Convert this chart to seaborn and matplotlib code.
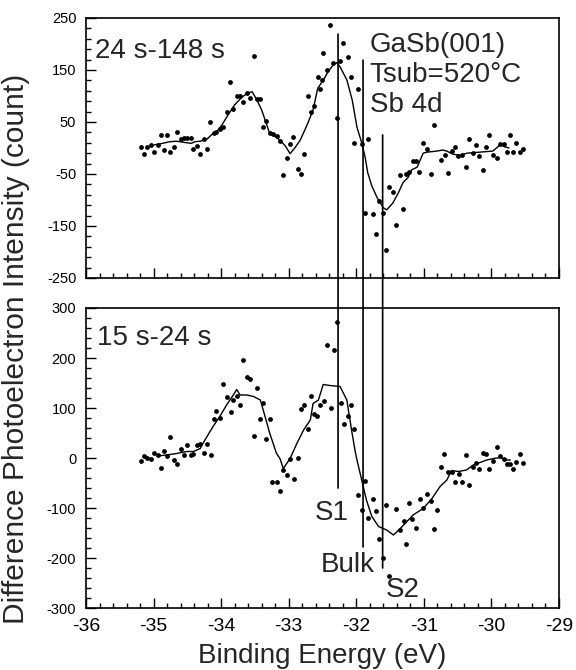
import pandas as pd
import matplotlib
matplotlib.use('Agg')
import matplotlib.pyplot as plt
import seaborn as sns
from matplotlib.ticker import MultipleLocator
from matplotlib.patches import ConnectionPatch

# ---- top panel (24 s-148 s): measured points ----
top_x = [-35.19, -35.14, -35.09, -35.04, -34.99, -34.94, -34.89, -34.84, -34.80, -34.75,
         -34.70, -34.66, -34.60, -34.55, -34.51, -34.45, -34.41, -34.36, -34.31, -34.26,
         -34.21, -34.16, -34.10, -34.07, -34.01, -33.97, -33.92, -33.87, -33.83, -33.77,
         -33.72, -33.67, -33.62, -33.57, -33.52, -33.47, -33.42, -33.38, -33.33, -33.28,
         -33.23, -33.18, -33.13, -33.08, -33.03, -32.98, -32.93, -32.87, -32.82, -32.77,
         -32.72, -32.67, -32.62, -32.57, -32.53, -32.51, -32.49, -32.44, -32.39, -32.34,
         -32.28, -32.24, -32.19, -32.13, -32.08, -32.03, -31.98, -31.92, -31.87, -31.82,
         -31.76, -31.71, -31.66, -31.61, -31.56, -31.51, -31.46, -31.41, -31.36, -31.31,
         -31.27, -31.22, -31.16, -31.11, -31.07, -31.02, -30.96, -30.90, -30.85, -30.74,
         -30.69, -30.64, -30.59, -30.54, -30.49, -30.44, -30.38, -30.33, -30.28, -30.23,
         -30.18, -30.13, -30.08, -30.03, -29.98, -29.92, -29.87, -29.82, -29.77, -29.72,
         -29.68, -29.63, -29.58, -29.53]
top_y = [2, -12, 1, 5, -8, 6, 25, -4, 25, -7,
         2, 30, 17, 19, 20, 20, -2, 4, -11, 17,
         -2, 49, 28, 30, 36, 40, 69, 127, 75, 100,
         99, 89, 105, 96, 176, 95, 94, 41, 52, 28,
         26, 23, 14, -52, -20, 7, 21, -40, -51, -12,
         99, 70, 81, 137, 113, 131, 182, 149, 236, 164,
         57, 167, 201, 174, 136, 10, 113, 7, -126, 17,
         -127, -165, -102, -126, -196, -76, -84, -148, -52, -118,
         -50, -47, -26, -25, -47, 9, -2, -50, 44, -23,
         -13, -49, -5, 2, -15, -13, -36, 17, -10, 6,
         -15, -42, 2, 25, -13, -20, 7, 7, -8, 25,
         -7, 9, -7, -2]

top_fit_x = [-34.99, -34.90, -34.76, -34.66, -34.51, -34.44, -34.39, -34.31, -34.21, -34.12,
             -34.08, -33.99, -33.90, -33.80, -33.69, -33.60, -33.54, -33.47, -33.40, -33.35,
             -33.29, -33.23, -33.13, -33.05, -32.98, -32.91, -32.83, -32.76, -32.71, -32.64,
             -32.57, -32.49, -32.42, -32.34, -32.29, -32.24, -32.14, -32.06, -31.99, -31.92,
             -31.87, -31.83, -31.77, -31.69, -31.60, -31.55, -31.46, -31.38, -31.31, -31.23,
             -31.18, -31.10, -31.01, -30.95, -30.81, -30.72, -30.66, -30.57, -30.47, -30.36,
             -30.17, -29.98, -29.87, -29.80, -29.74]
top_fit_y = [6, 8, 12, 13, 10, 9, 12, 13, 17, 28,
             29, 44, 63, 83, 98, 106, 108, 92, 73, 54,
             31, 25, 15, 4, -11, 0, 15, 35, 50, 73,
             115, 130, 146, 160, 164, 156, 131, 92, 40, 10,
             -17, -48, -73, -96, -115, -119, -106, -87, -67, -56,
             -42, -37, -10, -8, -6, -4, -6, -12, -14, -10,
             -8, -6, 6, 2, 0]

# ---- bottom panel (15 s-24 s): measured points ----
bot_x = [-35.19, -35.14, -35.09, -35.04, -34.99, -34.94, -34.89, -34.84, -34.80, -34.75,
         -34.70, -34.65, -34.60, -34.55, -34.50, -34.45, -34.41, -34.36, -34.31, -34.26,
         -34.21, -34.15, -34.11, -34.07, -34.02, -33.97, -33.92, -33.86, -33.82, -33.77,
         -33.72, -33.68, -33.62, -33.57, -33.52, -33.47, -33.42, -33.38, -33.33, -33.28,
         -33.24, -33.18, -33.13, -33.08, -33.03, -32.98, -32.92, -32.87, -32.82, -32.77,
         -32.72, -32.67, -32.63, -32.58, -32.53, -32.48, -32.43, -32.38, -32.33, -32.28,
         -32.23, -32.18, -32.13, -32.08, -32.03, -31.97, -31.92, -31.87, -31.82, -31.76,
         -31.71, -31.67, -31.61, -31.56, -31.51, -31.41, -31.36, -31.30, -31.26, -31.22,
         -31.17, -31.12, -31.06, -31.01, -30.96, -30.90, -30.85, -30.80, -30.74, -30.70,
         -30.64, -30.59, -30.54, -30.48, -30.44, -30.38, -30.33, -30.28, -30.23, -30.18,
         -30.13, -30.08, -30.03, -29.98, -29.92, -29.88, -29.82, -29.77, -29.72, -29.68,
         -29.63, -29.58, -29.53]
bot_y = [-6, 4, 1, -1, 11, 6, -19, 15, 4, 43,
         -3, -12, 19, 7, 27, 7, 9, 27, 29, 11,
         28, 7, 79, 95, 81, 148, 123, 93, 116, 124,
         106, 196, 163, 159, 45, 141, 79, 111, 39, 79,
         -47, -47, -66, -23, -33, -1, -42, 1, 99, 106,
         59, 124, 88, 84, 106, 114, 226, 101, 216, 273,
         111, 69, 85, 106, 59, -74, -104, -46, -119, -82,
         -105, -161, -199, -93, -235, -101, -143, -125, -171, -89,
         -121, -140, -81, -99, -71, -86, -141, -103, -17, 8,
         -28, -27, -47, -31, -47, 6, -54, -17, -9, -21,
         11, 8, -21, -5, 23, 5, -2, -11, -11, -22,
         -7, 9, -9]

bot_fit_x = [-34.95, -34.81, -34.66, -34.51, -34.41, -34.31, -34.24, -34.12, -34.02, -33.92,
             -33.82, -33.77, -33.72, -33.62, -33.52, -33.42, -33.35, -33.28, -33.18, -33.13,
             -33.08, -32.98, -32.88, -32.78, -32.68, -32.64, -32.56, -32.49, -32.39, -32.24,
             -32.14, -32.07, -32.02, -31.99, -31.92, -31.85, -31.77, -31.67, -31.55, -31.45,
             -31.35, -31.25, -31.16, -31.01, -30.88, -30.76, -30.66, -30.59, -30.49, -30.37,
             -30.27, -30.17, -30.07, -29.97, -29.87, -29.77, -29.72]
bot_fit_y = [4, 6, 9, 13, 13, 19, 36, 63, 83, 106,
             126, 137, 126, 126, 123, 116, 83, 49, 9, -1,
             -21, -1, 29, 56, 76, 109, 116, 147, 145, 143,
             116, 56, 16, -4, -44, -84, -117, -137, -144, -154,
             -141, -127, -114, -101, -81, -57, -44, -25, -27, -24,
             -14, -9, -4, -1, 1, -4, -4]

# peak marker lines: energy, top-panel end, bottom-panel end
marker_names = ['S1', 'Bulk', 'S2']
marker_x = [-32.27, -31.90, -31.61]
marker_top = [219, 169, 25]
marker_bot = [-60, -178, -220]

top = pd.DataFrame({'E': top_x, 'I': top_y})
top_fit = pd.DataFrame({'E': top_fit_x, 'I': top_fit_y})
bot = pd.DataFrame({'E': bot_x, 'I': bot_y})
bot_fit = pd.DataFrame({'E': bot_fit_x, 'I': bot_fit_y})

sns.set_style('ticks')
plt.rcParams['font.family'] = ['Liberation Sans', 'DejaVu Sans']
plt.rcParams['axes.unicode_minus'] = False

fig = plt.figure(figsize=(5.76, 6.70), dpi=100)
ax1 = fig.add_axes([0.1493, 0.5851, 0.8212, 0.3881])
ax2 = fig.add_axes([0.1493, 0.0925, 0.8212, 0.4478])

for ax, pts, fit in [(ax1, top, top_fit), (ax2, bot, bot_fit)]:
    sns.lineplot(data=fit, x='E', y='I', ax=ax, color='black', lw=1.0,
                 sort=False, estimator=None)
    sns.scatterplot(data=pts, x='E', y='I', ax=ax, color='black', s=12,
                    linewidth=0)
    ax.set_xlim(-36, -29)
    ax.xaxis.set_major_locator(MultipleLocator(1))
    ax.xaxis.set_minor_locator(MultipleLocator(0.2))
    ax.yaxis.set_minor_locator(MultipleLocator(20, offset=10 if ax is ax1 else 0))
    ax.tick_params(which='both', direction='in', top=False, right=False,
                   width=1, color='black', labelcolor='black')
    ax.tick_params(which='major', length=7)
    ax.tick_params(which='minor', length=3.5)
    ax.tick_params(axis='y', labelsize=10.5, pad=7)
    ax.tick_params(axis='x', labelsize=14, pad=7)
    ax.set_xlabel('')
    ax.set_ylabel('')
    for s in ax.spines.values():
        s.set_linewidth(1.2)
        s.set_color('black')

ax1.set_ylim(-250, 250)
ax1.set_yticks([-250, -150, -50, 50, 150, 250])
ax1.tick_params(axis='x', labelbottom=False)
ax2.set_ylim(-300, 300)
ax2.set_yticks([-300, -200, -100, 0, 100, 200, 300])

ax1.text(-35.87, 186, '24 s-148 s', fontsize=20, va='center', ha='left')
ax1.text(-31.80, 198, 'GaSb(001)', fontsize=20, va='center', ha='left')
ax1.text(-31.80, 140, 'Tsub=520°C', fontsize=20, va='center', ha='left')
ax1.text(-31.80, 83, 'Sb 4d', fontsize=20, va='center', ha='left')
ax2.text(-35.84, 240, '15 s-24 s', fontsize=20, va='center', ha='left')

label_pos = [(-32.36, -110), (-32.12, -214), (-31.31, -264)]
for name, xv, yt, yb, (lx, ly) in zip(marker_names, marker_x, marker_top,
                                      marker_bot, label_pos):
    con = ConnectionPatch(xyA=(xv, yt), coordsA=ax1.transData,
                          xyB=(xv, yb), coordsB=ax2.transData,
                          color='black', lw=1.2)
    fig.add_artist(con)
    ax2.text(lx, ly, name, fontsize=20, ha='center', va='center')

fig.text(0.028, 0.479, 'Difference Photoelectron Intensity (count)',
         rotation=90, fontsize=21.5, ha='center', va='center')
fig.text(0.56, 0.04, 'Binding Energy (eV)', fontsize=20, ha='center', va='top')

fig.savefig('out.png', dpi=100)
